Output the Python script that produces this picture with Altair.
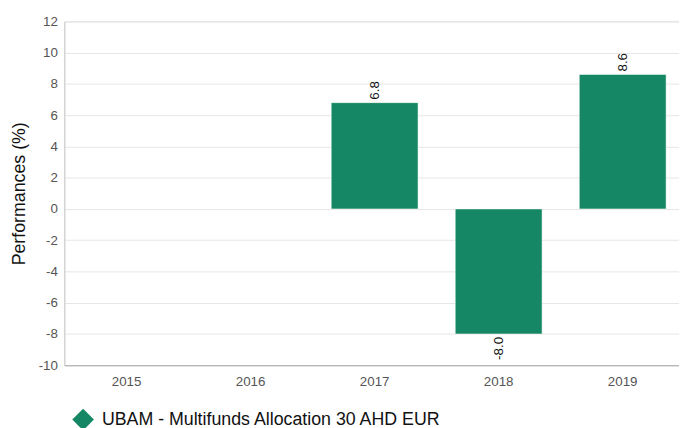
import altair as alt
import pandas as pd

years = ["2015", "2016", "2017", "2018", "2019"]
values = [None, None, 6.8, -8.0, 8.6]
series_name = "UBAM - Multifunds Allocation 30 AHD EUR"

df = pd.DataFrame({"year": years, "value": values, "series": [series_name] * len(years)})
df["label"] = df["value"].map(lambda v: "" if pd.isna(v) else f"{v:.1f}")

FONT = "Liberation Sans"
GREEN = "#168764"
SHIFT = 3

x = alt.X("year:N", sort=years, title=None,
          scale=alt.Scale(paddingInner=0.3, paddingOuter=0.128),
          axis=alt.Axis(labelAngle=0, ticks=False, labelColor="#555555", labelFontSize=13.5,
                        labelFont=FONT, domainColor="#aaaaaa", labelPadding=10, grid=False,
                        labelOffset=SHIFT))
y = alt.Y("value:Q", title="Performances (%)",
          scale=alt.Scale(domain=[-10, 12], nice=False, zero=True),
          axis=alt.Axis(values=list(range(-10, 13, 2)), ticks=False, labelColor="#555555",
                        labelFontSize=13.5, labelFont=FONT, domainColor="#cccccc",
                        labelOverlap=False, labelExpr="toString(datum.value)",
                        gridColor="#e6e6e6", labelPadding=7, titleFont=FONT,
                        titleFontSize=18, titleFontWeight="normal", titleColor="#111111",
                        titlePadding=10))

base = alt.Chart(df)

bars = base.mark_bar(stroke="white", strokeWidth=0.5, xOffset=SHIFT).encode(
    x=x, y=y,
    color=alt.Color("series:N", title=None,
                    scale=alt.Scale(range=[GREEN]),
                    legend=alt.Legend(orient="none", legendX=8, legendY=392,
                                      symbolType="diamond", symbolSize=480,
                                      symbolStrokeWidth=0, labelFontSize=18,
                                      labelFont=FONT, labelColor="#111111",
                                      labelLimit=600, labelOffset=8)),
)

pos = base.transform_filter("datum.value > 0").mark_text(
    angle=270, align="left", baseline="middle", dx=3, xOffset=SHIFT,
    fontSize=13.5, font=FONT, color="#111111"
).encode(x=x, y=y, text="label:N")

neg = base.transform_filter("datum.value < 0").mark_text(
    angle=270, align="right", baseline="middle", dx=-3, xOffset=SHIFT,
    fontSize=13.5, font=FONT, color="#111111"
).encode(x=x, y=y, text="label:N")

chart = alt.layer(bars, pos, neg).properties(
    width=622, height=348,
    autosize=alt.AutoSizeParams(type="none"),
    padding={"left": 57, "top": 11, "right": 0, "bottom": 61},
).configure_view(strokeWidth=0).configure(background="white")

chart.save("out.html", embed_options={"renderer": "svg", "actions": False})
